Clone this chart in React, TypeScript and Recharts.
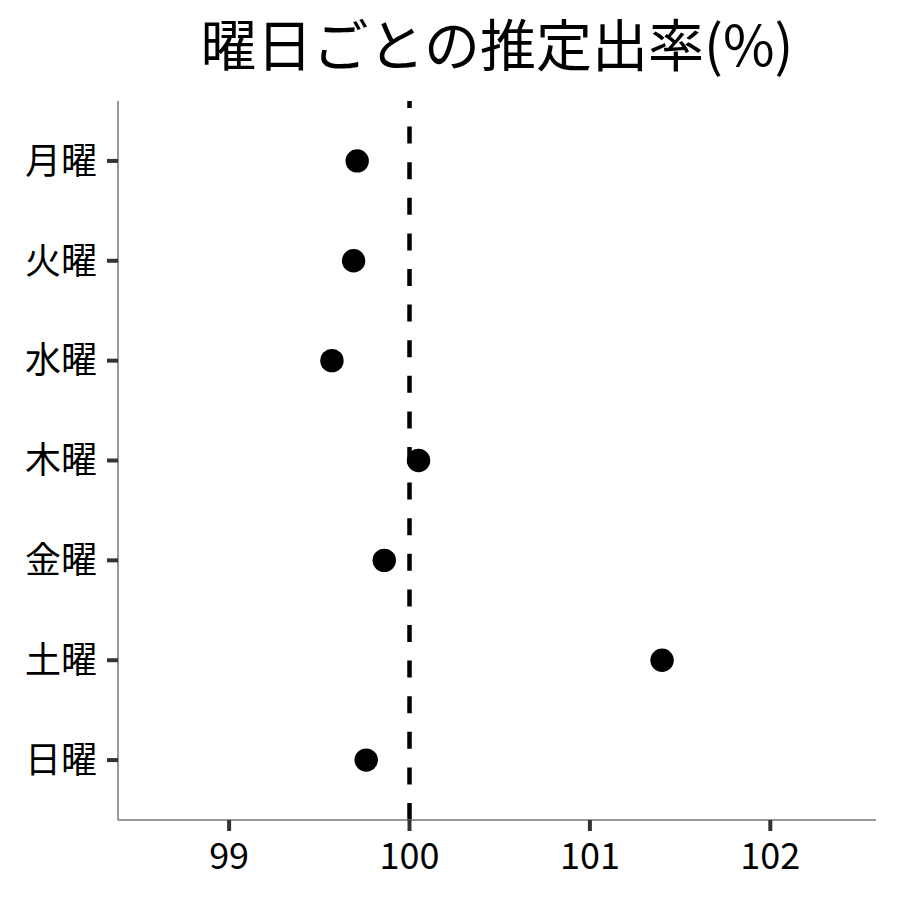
import {
  ScatterChart,
  Scatter,
  XAxis,
  YAxis,
  ReferenceLine,
} from "recharts";

const days = ["月曜", "火曜", "水曜", "木曜", "金曜", "土曜", "日曜"];
const rates = [99.71, 99.69, 99.57, 100.05, 99.86, 101.4, 99.76];
const xTicks = [99, 100, 101, 102];

const FONT = '"Noto Sans CJK JP", "Noto Sans", sans-serif';

const data = days.map((day, i) => ({ day, pos: i + 1, rate: rates[i] }));

function Dot(props: any) {
  const { cx, cy } = props;
  return <circle cx={cx} cy={cy} r={11.7} fill="#000" />;
}

// dashes laid out from the bottom up, like the original
function DashedLine(props: any) {
  const { x1, y1, x2, y2 } = props;
  return (
    <line
      x1={x1}
      x2={x2}
      y1={Math.max(y1, y2)}
      y2={Math.min(y1, y2)}
      stroke="#000"
      strokeWidth={4.5}
      strokeDasharray="17 18.6"
    />
  );
}

export default function App() {
  return (
    <div
      style={{
        position: "absolute",
        left: 0,
        top: 0,
        width: 900,
        height: 900,
        background: "#fff",
        fontFamily: FONT,
      }}
    >
      <div
        style={{
          position: "absolute",
          left: 118,
          width: 758,
          top: 14,
          textAlign: "center",
          fontSize: 56,
          lineHeight: 1,
          color: "#000",
        }}
      >
        曜日ごとの推定出率(%)
      </div>
      <ScatterChart
        width={900}
        height={900}
        margin={{ top: 101, right: 24, bottom: 0, left: 0 }}
        style={{ fontFamily: FONT }}
      >
        <XAxis
          type="number"
          dataKey="rate"
          domain={[98.384, 102.586]}
          ticks={xTicks}
          height={80}
          tickSize={11}
          tickMargin={12}
          axisLine={{ stroke: "#777", strokeWidth: 1.5 }}
          tickLine={{ stroke: "#333", strokeWidth: 4 }}
          tick={{ fontSize: 36, fill: "#000" }}
          allowDataOverflow
        />
        <YAxis
          type="number"
          dataKey="pos"
          domain={[0.4, 7.6]}
          ticks={[1, 2, 3, 4, 5, 6, 7]}
          reversed
          width={118}
          tickSize={11}
          tickMargin={10}
          tickFormatter={(v: number) => days[v - 1]}
          axisLine={{ stroke: "#777", strokeWidth: 1.5 }}
          tickLine={{ stroke: "#333", strokeWidth: 4 }}
          tick={{ fontSize: 36, fill: "#000" }}
          allowDataOverflow
        />
        <ReferenceLine x={100} shape={<DashedLine />} />
        <Scatter data={data} shape={<Dot />} isAnimationActive={false} />
      </ScatterChart>
    </div>
  );
}
